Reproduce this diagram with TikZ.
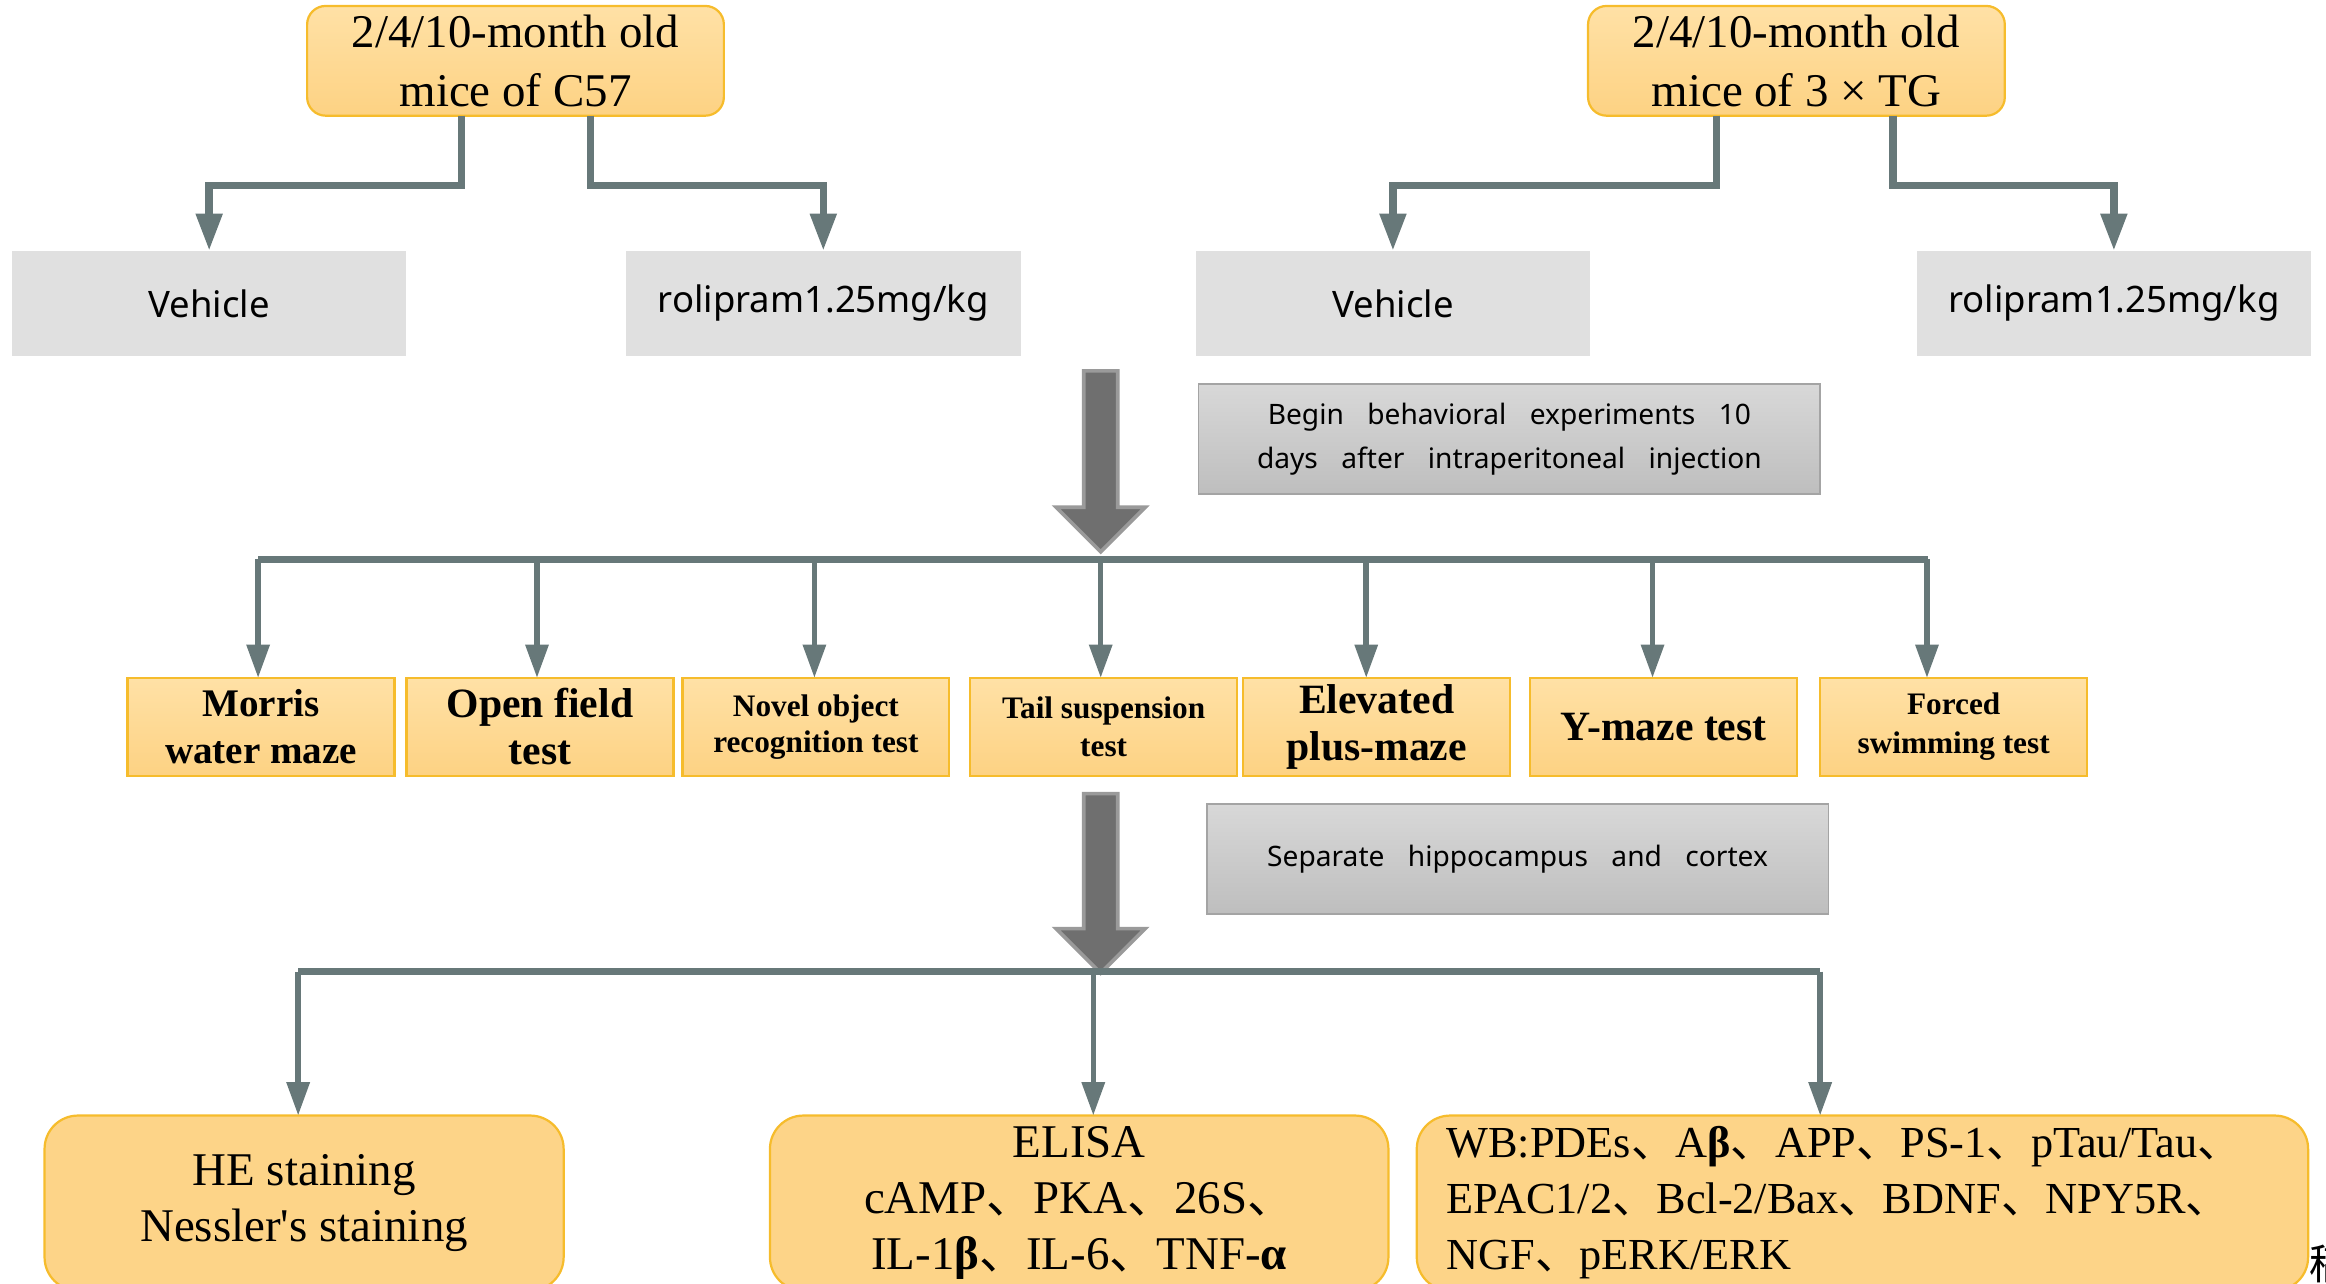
\documentclass[tikz,border=0pt]{standalone}
\usepackage{fontspec}
\setmainfont{Liberation Serif}
\newfontfamily\cjk{Noto Sans CJK SC}
\newfontfamily\labelsf{Noto Sans}
\newfontfamily\notesf[WordSpace=3.2]{Noto Sans}
\usetikzlibrary{
    arrows.meta,
    calc,
    positioning
}
\definecolor{boxtop}{HTML}{FFE1A6}
\definecolor{boxbot}{HTML}{FDD283}
\definecolor{boxline}{HTML}{F6BC2C}
\definecolor{pale}{HTML}{E0E0E0}
\definecolor{notetop}{HTML}{D8D8D8}
\definecolor{notebot}{HTML}{BEBEBE}
\definecolor{noteline}{HTML}{A4A4A4}
\definecolor{linkgray}{HTML}{677879}
\definecolor{heavy}{HTML}{6F6F6F}
\newcommand{\dun}{{\cjk 、}}
\newcommand{\fs}[2]{\fontsize{#1}{#2}\selectfont}
\newcommand{\bigdown}[2]{%
    \filldraw[bigarrow] (#1) ++(-11.5,0) -- ++(23,0) -- ++(0,#2) -- ++(18.5,0)
        -- ++(-30,30) -- ++(-30,-30) -- ++(18.5,0) -- cycle;}
\tikzset{
    every picture/.style = {
        > = {Triangle[length = 0.5cm, width = 0.34cm]}
    },
    every node/.style = {
        inner sep = 2pt,
        outer sep = 0pt,
        align = center
    },
    group/.style = {
        rounded corners = 0.25cm,
        top color = boxtop,
        bottom color = boxbot,
        draw = boxline,
        line width = 0.03cm,
        minimum width = 5.62cm,
        minimum height = 1.48cm,
        font = \fs{18}{22.5}
    },
    dose/.style = {
        fill = pale,
        minimum width = 5.32cm,
        minimum height = 1.42cm,
        font = \labelsf\fs{14}{16}
    },
    note/.style = {
        top color = notetop,
        bottom color = notebot,
        draw = noteline,
        line width = 0.02cm,
        minimum width = 8.38cm,
        minimum height = 1.48cm,
        font = \notesf\fs{10.8}{17}
    },
    test/.style = {
        top color = boxtop,
        bottom color = boxbot,
        draw = boxline,
        line width = 0.03cm,
        minimum width = 3.6cm,
        minimum height = 1.32cm
    },
    assay/.style = {
        rounded corners = 0.45cm,
        fill = boxbot!85!boxtop,
        draw = boxline,
        line width = 0.03cm,
        minimum height = 2.36cm,
        font = \fs{18}{21.5}
    },
    branch/.style = {
        ->,
        draw = linkgray,
        line width = 0.1cm
    },
    bus/.style = {
        draw = linkgray,
        line width = 0.1cm
    },
    drop/.style = {
        ->,
        draw = linkgray,
        line width = 0.075cm,
        > = {Triangle[length = 0.45cm, width = 0.3cm]}
    },
    bigarrow/.style = {
        fill = heavy,
        draw = heavy!70!white,
        line width = 0.05cm
    }
}

\begin{document}
\begin{tikzpicture}[x = 0.02cm, y = -0.02cm]
    \useasboundingbox (0,0) rectangle (1568,865);

    \node[group] (c57) at (347.5,41) {2/4/10-month old\\mice of C57};
    \node[group] (tg) at (1211,41) {2/4/10-month old\\mice of 3 × TG};

    \node[dose] (veh1) at (141,204.5) {Vehicle};
    \node[dose] (rol1) at (555,204.5) {rolipram1.25mg/kg};
    \node[dose] (veh2) at (939,204.5) {Vehicle};
    \node[dose] (rol2) at (1425,204.5) {rolipram1.25mg/kg};

    \draw[branch] ($(c57.south)+(-36.5,0)$) -- ++(0,47) -| (veh1);
    \draw[branch] ($(c57.south)+(50.5,0)$) -- ++(0,47) -| (rol1);
    \draw[branch] ($(tg.south)+(-54,0)$) -- ++(0,47) -| (veh2);
    \draw[branch] ($(tg.south)+(65,0)$) -- ++(0,47) -| (rol2);

    \bigdown{742,250}{92}
    \node[note] (begin) at (1017.5,296) {Begin behavioral experiments 10\\days after intraperitoneal injection};

    \node[test, font = \bfseries\fs{15}{18}] (morris) at (176,490) {Morris\\water maze};
    \node[test, font = \bfseries\fs{16}{18}] (open) at (364,490) {Open field\\test};
    \node[test, font = \bfseries\fs{12}{14}] (novel) at (550,490) {Novel object\\recognition test};
    \node[test, font = \bfseries\fs{12}{14.5}] (tail) at (744,490) {Tail suspension\\test};
    \node[test, font = \bfseries\fs{16}{18}] (elev) at (928,490) {Elevated\\plus-maze};
    \node[test, font = \bfseries\fs{16}{18}] (ymaze) at (1121.5,490) {Y-maze test};
    \node[test, font = \bfseries\fs{12}{15}] (forced) at (1317,490) {Forced\\swimming test};

    \coordinate (bus1) at (742,377);
    \draw[bus] (174,0 |- bus1) -- (1300,0 |- bus1);
    \foreach \x/\n in {174/morris, 362/open, 549/novel, 742/tail, 921/elev, 1114/ymaze, 1299/forced}
        \draw[drop] (\x,0 |- bus1) -- (\x,0 |- \n.north);

    \bigdown{742,535}{91}
    \node[note] (split) at (1023,579) {Separate hippocampus and cortex};

    \node[assay, minimum width = 7cm] (he) at (205,811) {HE staining\\Nessler\textquotesingle s staining};
    \node[assay, minimum width = 8.34cm] (elisa) at (727.5,811)
        {ELISA\\cAMP\dun PKA\dun 26S\dun\\IL-1\textbf{β}\dun IL-6\dun TNF-\textbf{α}};
    \node[assay, minimum width = 12.02cm, text width = 11.22cm, align = left, font = \fs{17}{21.5}] (wb) at (1255.5,811)
        {WB:PDEs\dun A\textbf{β}\dun APP\dun PS-1\dun pTau/Tau\dun\\EPAC1/2\dun Bcl-2/Bax\dun BDNF\dun NPY5R\dun\\NGF\dun pERK/ERK};

    \coordinate (bus2) at (742,655);
    \draw[bus] (201,0 |- bus2) -- (1227,0 |- bus2);
    \foreach \x/\n in {201/he, 737/elisa, 1227/wb}
        \draw[drop] (\x,0 |- bus2) -- (\x,0 |- \n.north);

    \node[anchor = west, inner sep = 0pt, font = \cjk\fs{16}{16}] (stray) at (1557,852) {稿};
\end{tikzpicture}
\end{document}
